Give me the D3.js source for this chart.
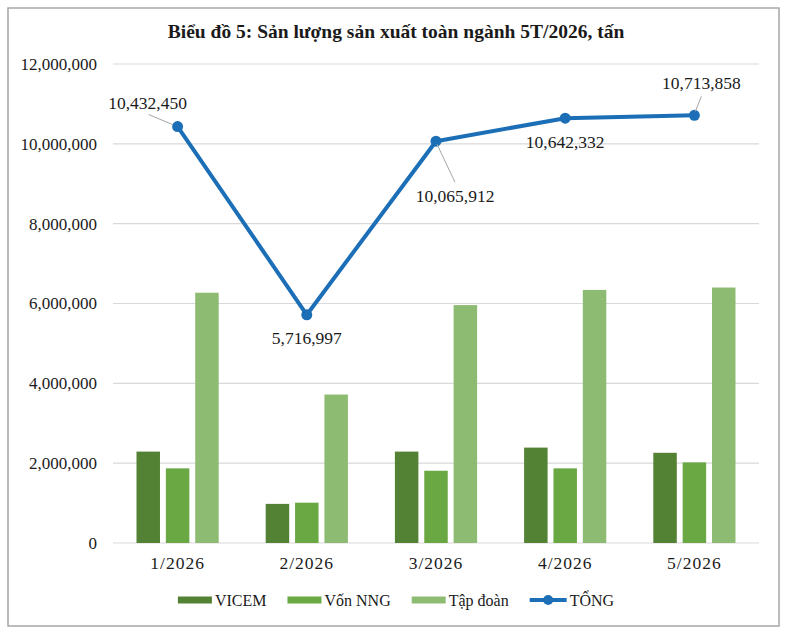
<!DOCTYPE html>
<html>
<head>
<meta charset="utf-8">
<script src="https://cdn.jsdelivr.net/npm/d3@7"></script>
<style>
  body { margin: 0; background: #fff; }
  svg text { font-family: "Liberation Serif", "DejaVu Serif", serif; fill: #1a1a1a; }
</style>
</head>
<body>
<svg id="chart" width="787" height="633"></svg>
<script>
// data
var months = ["1/2026", "2/2026", "3/2026", "4/2026", "5/2026"]
var seriesNames = ["VICEM", "Vốn NNG", "Tập đoàn"]
var vicem = [2290000, 980000, 2290000, 2390000, 2260000]
var vonNNG = [1870000, 1010000, 1810000, 1870000, 2020000]
var tapDoan = [6270000, 3720000, 5960000, 6340000, 6400000]
var tong = [10432450, 5716997, 10065912, 10642332, 10713858]
var yTicks = [0, 2000000, 4000000, 6000000, 8000000, 10000000, 12000000]

var colors = ["#548235", "#6aa843", "#8dbb72"]
var lineColor = "#1c6fb6"

// label offsets from each point (text centre) and whether a leader line is drawn
var labelPos = [
    { dx: -30, dy: -24, leader: [[-29, -12], [-5, -2]] },
    { dx: 0, dy: 23, leader: null },
    { dx: 19, dy: 55, leader: [[19, 41], [1, 3]] },
    { dx: 0, dy: 24, leader: null },
    { dx: 7, dy: -32, leader: [[7, -19], [1, -4]] }
]

var svg = d3.select("#chart")
var W = 787, H = 633
var margin = { top: 64, left: 113, bottom: 90, right: 28 }

svg.append("rect")
    .attr("x", 8).attr("y", 8)
    .attr("width", W - 16).attr("height", H - 15)
    .attr("fill", "#fff")
    .attr("stroke", "#a6a6a6")
    .attr("stroke-width", 1.5)

svg.append("text")
    .attr("x", 396).attr("y", 38)
    .attr("text-anchor", "middle")
    .attr("font-size", 19.5)
    .attr("font-weight", "bold")
    .text("Biểu đồ 5: Sản lượng sản xuất toàn ngành 5T/2026, tấn")

const X_scale = d3.scaleBand()
    .domain(months)
    .range([margin.left, W - margin.right])

const X_sub = d3.scaleBand()
    .domain(seriesNames)
    .range([23.5, X_scale.bandwidth() - 23.5])
    .paddingInner(0.2)

const Y_scale = d3.scaleLinear()
    .domain([0, 12000000])
    .range([H - margin.bottom, margin.top])

// gridlines
svg.append("g").selectAll("line")
    .data(yTicks)
    .join("line")
    .attr("x1", margin.left).attr("x2", W - margin.right)
    .attr("y1", d => Y_scale(d)).attr("y2", d => Y_scale(d))
    .attr("stroke", "#d9d9d9")
    .attr("stroke-width", 1.2)

// y axis labels
const yAxis = svg.append("g")
    .attr("transform", `translate(${margin.left - 16},0)`)
    .call(d3.axisLeft(Y_scale).tickValues(yTicks).tickSize(0).tickPadding(0).tickFormat(d3.format(",")))
yAxis.select(".domain").remove()
yAxis.selectAll("text")
    .attr("font-size", 17)
    .attr("font-family", "Liberation Serif")
    .attr("fill", "#1a1a1a")

// x axis labels
const xAxis = svg.append("g")
    .attr("transform", `translate(0,${H - margin.bottom})`)
    .call(d3.axisBottom(X_scale).tickSize(0).tickPadding(14))
xAxis.select(".domain").remove()
xAxis.selectAll("text")
    .attr("font-size", 17.5)
    .attr("letter-spacing", 1)
    .attr("font-family", "Liberation Serif")
    .attr("fill", "#1a1a1a")

// bars
var barData = [vicem, vonNNG, tapDoan]
var groups = svg.append("g").selectAll("g")
    .data(months)
    .join("g")
    .attr("transform", d => `translate(${X_scale(d)},0)`)

groups.selectAll("rect")
    .data((m, i) => seriesNames.map((s, j) => ({ s: s, j: j, v: barData[j][i] })))
    .join("rect")
    .attr("x", d => X_sub(d.s))
    .attr("width", X_sub.bandwidth())
    .attr("y", d => Y_scale(d.v))
    .attr("height", d => Y_scale(0) - Y_scale(d.v))
    .attr("fill", d => colors[d.j])

// total line
var cx = (d, i) => X_scale(months[i]) + X_scale.bandwidth() / 2
var line = d3.line()
    .x((d, i) => cx(d, i))
    .y(d => Y_scale(d))

svg.append("path")
    .datum(tong)
    .attr("d", line)
    .attr("fill", "none")
    .attr("stroke", lineColor)
    .attr("stroke-width", 4)
    .attr("stroke-linejoin", "round")

svg.append("g").selectAll("circle")
    .data(tong)
    .join("circle")
    .attr("cx", cx)
    .attr("cy", d => Y_scale(d))
    .attr("r", 5.5)
    .attr("fill", lineColor)

// data labels with leader lines
tong.forEach((v, i) => {
    var px = cx(v, i), py = Y_scale(v), p = labelPos[i]
    if (p.leader) {
        svg.append("line")
            .attr("x1", px + p.leader[0][0]).attr("y1", py + p.leader[0][1])
            .attr("x2", px + p.leader[1][0]).attr("y2", py + p.leader[1][1])
            .attr("stroke", "#a6a6a6")
            .attr("stroke-width", 1)
    }
    svg.append("text")
        .attr("x", px + p.dx)
        .attr("y", py + p.dy + 6)
        .attr("text-anchor", "middle")
        .attr("font-size", 17.5)
        .text(d3.format(",")(v))
})

// legend
var legendItems = seriesNames.map((s, j) => ({ name: s, color: colors[j], type: "bar" }))
legendItems.push({ name: "TỔNG", color: lineColor, type: "line" })

var legend = svg.append("g").attr("transform", "translate(0,600)")
var lx = 0
var items = legend.selectAll("g")
    .data(legendItems)
    .join("g")

items.each(function (d) {
    var g = d3.select(this)
    if (d.type === "bar") {
        g.append("rect").attr("x", 0).attr("y", -3.5).attr("width", 34).attr("height", 7).attr("fill", d.color)
    } else {
        g.append("line").attr("x1", 0).attr("x2", 37).attr("y1", 0).attr("y2", 0)
            .attr("stroke", d.color).attr("stroke-width", 4)
        g.append("circle").attr("cx", 18.5).attr("cy", 0).attr("r", 5).attr("fill", d.color)
    }
    var t = g.append("text")
        .attr("x", d.type === "bar" ? 37 : 40)
        .attr("y", 6)
        .attr("font-size", 16)
        .text(d.name)
    d.w = (d.type === "bar" ? 37 : 40) + t.node().getComputedTextLength()
})

var total = d3.sum(legendItems, d => d.w) + 21 * (legendItems.length - 1)
lx = 396 - total / 2
items.attr("transform", d => {
    var x = lx
    lx += d.w + 21
    return `translate(${x},0)`
})
</script>
</body>
</html>
